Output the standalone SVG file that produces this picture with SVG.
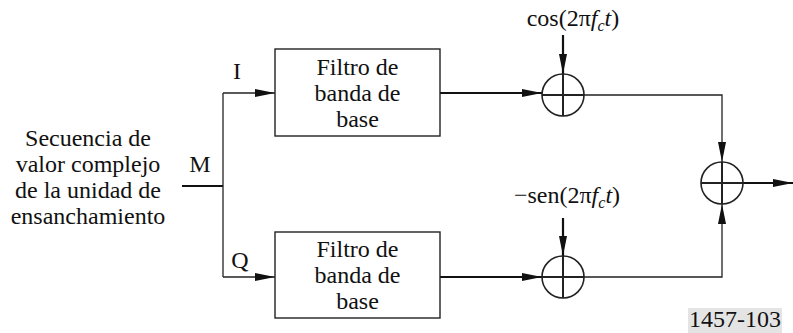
<svg xmlns="http://www.w3.org/2000/svg" width="793" height="333" viewBox="0 0 793 333" font-family="'Liberation Serif', 'DejaVu Serif', serif">
<style>
text{font-family:'Liberation Serif','DejaVu Serif',serif;font-size:24px;fill:#111}
.box{fill:#fff;stroke:#222;stroke-width:1.4}
.circ{fill:none;stroke:#222;stroke-width:1.6}
.cross{stroke:#222;stroke-width:2}
.thin{fill:none;stroke:#222;stroke-width:1.3}
.thick{fill:none;stroke:#111;stroke-width:2.2}
.m{text-anchor:middle}
.it{font-style:italic}
</style>
<defs>
<marker id="ah" viewBox="0 0 20 8" refX="20" refY="4" markerWidth="20" markerHeight="8" markerUnits="userSpaceOnUse" orient="auto">
<path d="M0,0 L20,4 L0,8 z" fill="#111"/>
</marker>
</defs>
<rect x="688" y="308" width="94" height="25" fill="#e4e4e4"/>
<text x="735" y="327" class="m" font-size="22.5px">1457-103</text>
<g id="connectors">
<path class="thick" d="M182,186 H223"/>
<path class="thin" d="M223,93 V277"/>
<path class="thin" d="M223,93 H275" marker-end="url(#ah)"/>
<path class="thin" d="M223,277 H275" marker-end="url(#ah)"/>
<path class="thick" d="M440,93 H542" marker-end="url(#ah)"/>
<path class="thick" d="M440,277 H542" marker-end="url(#ah)"/>
<path class="thick" d="M563,35 V74" marker-end="url(#ah)"/>
<path class="thick" d="M563,218 V256" marker-end="url(#ah)"/>
<path class="thin" d="M584,95 H722 V162" marker-end="url(#ah)"/>
<path class="thin" d="M584,277 H722 V204" marker-end="url(#ah)"/>
<path class="thick" d="M743,183 H793" marker-end="url(#ah)"/>
</g>
<g id="input">
<text x="88" y="146" class="m">Secuencia de</text>
<text x="88" y="172" class="m">valor complejo</text>
<text x="88" y="198" class="m">de la unidad de</text>
<text x="88" y="224" class="m">ensanchamiento</text>
</g>
<g id="label-m"><text x="200" y="172" class="m">M</text></g>
<g id="label-i"><text x="237" y="79" class="m">I</text></g>
<g id="label-q"><text x="240" y="268" class="m">Q</text></g>
<g id="filter-i">
<rect class="box" x="275" y="49" width="165" height="87"/>
<text x="357.5" y="74.5" class="m">Filtro de</text>
<text x="357.5" y="100.5" class="m">banda de</text>
<text x="357.5" y="126.5" class="m">base</text>
</g>
<g id="filter-q">
<rect class="box" x="275" y="232" width="165" height="86"/>
<text x="357.5" y="256.5" class="m">Filtro de</text>
<text x="357.5" y="282.5" class="m">banda de</text>
<text x="357.5" y="308.5" class="m">base</text>
</g>
<g id="mixer-i">
<circle class="circ" cx="563" cy="95" r="21"/>
<path class="cross" d="M542,95 H584 M563,74 V116"/>
<text x="573" y="26" class="m">cos(2π<tspan class="it">f</tspan><tspan class="it" font-size="16px" dy="5">c</tspan><tspan class="it" dy="-5">t</tspan>)</text>
</g>
<g id="mixer-q">
<circle class="circ" cx="563" cy="277" r="21"/>
<path class="cross" d="M542,277 H584 M563,256 V298"/>
<text x="567" y="203" class="m">−sen(2π<tspan class="it">f</tspan><tspan class="it" font-size="16px" dy="5">c</tspan><tspan class="it" dy="-5">t</tspan>)</text>
</g>
<g id="sum">
<circle class="circ" cx="722" cy="183" r="21"/>
<path class="cross" d="M701,183 H743 M722,162 V204"/>
</g>
</svg>
